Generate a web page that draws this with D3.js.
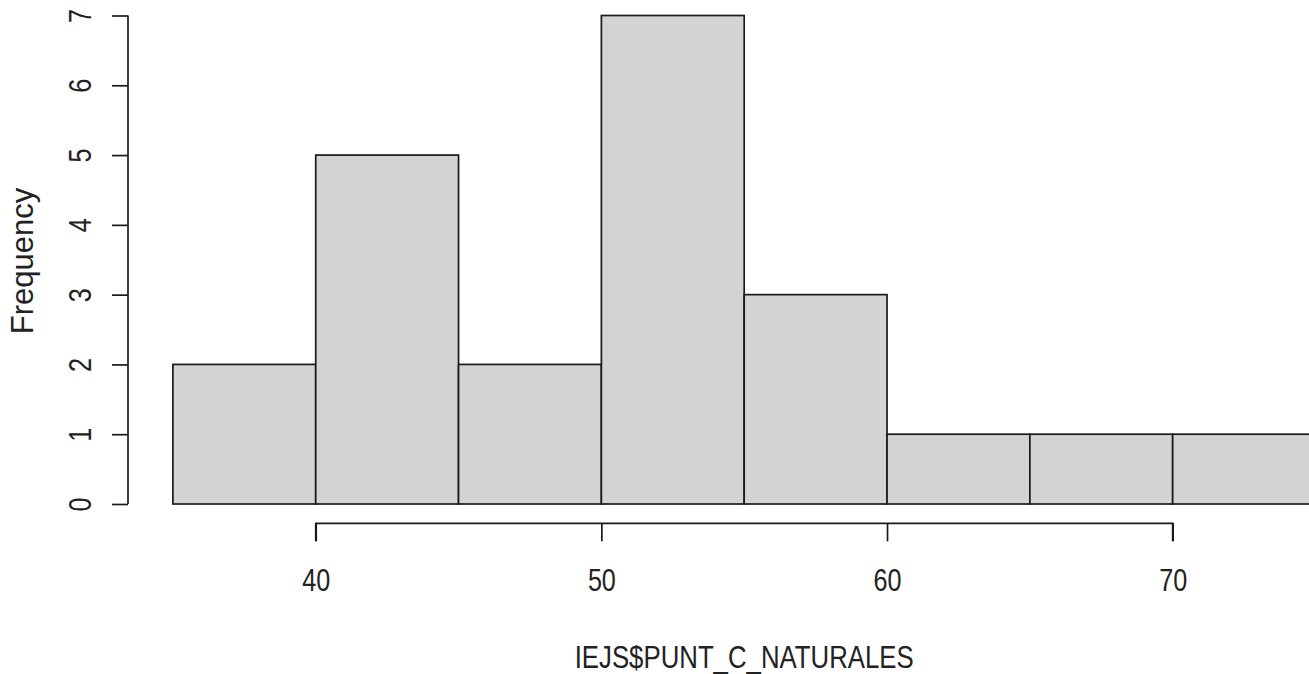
<!DOCTYPE html>
<html><head><meta charset="utf-8">
<script src="https://cdn.jsdelivr.net/npm/d3@7"></script>
<style>
html,body{margin:0;padding:0;background:#fff;overflow:hidden}
text{font-family:"Liberation Sans",Arial,sans-serif;fill:#222}
</style></head>
<body><svg id="c" width="1309" height="674"></svg>
<script>
const binStarts = [35, 40, 45, 50, 55, 60, 65, 70];
const binWidth = 5;
const counts = [2, 5, 2, 7, 3, 1, 1, 1];
const xTicks = [40, 50, 60, 70];
const yTicks = [0, 1, 2, 3, 4, 5, 6, 7];
const xLabel = "IEJS$PUNT_C_NATURALES";
const yLabel = "Frequency";

const svg = d3.select("#c");
const x = d3.scaleLinear().domain([35, 75]).range([172.9, 1315.5]);
const y = d3.scaleLinear().domain([0, 7]).range([504, 15.5]);
const fs = 31;
const digitW = 14;

svg.append("g").selectAll("rect").data(binStarts).join("rect")
  .attr("x", (d) => x(d))
  .attr("y", (d, i) => y(counts[i]))
  .attr("width", (d) => x(d + binWidth) - x(d))
  .attr("height", (d, i) => y(0) - y(counts[i]))
  .attr("fill", "#d3d3d3")
  .attr("stroke", "#1a1a1a")
  .attr("stroke-width", 1.7);

// x axis (R style)
const gx = svg.append("g").attr("transform", "translate(0,523.3)")
  .call(d3.axisBottom(x).tickValues(xTicks).tickSize(18).tickPadding(0).tickSizeOuter(0));
gx.attr("font-family", null);
gx.select(".domain").attr("d", `M${x(xTicks[0])},18V0H${x(xTicks[xTicks.length-1])}V18`)
  .attr("stroke", "#1a1a1a").attr("stroke-width", 1.7);
gx.selectAll("line").attr("stroke", "#1a1a1a").attr("stroke-width", 1.7);
gx.selectAll("text").attr("font-size", fs).attr("dy", null).attr("y", 68).attr("fill", "#222")
  .attr("textLength", (d) => String(d).length * digitW).attr("lengthAdjust", "spacingAndGlyphs");

// y axis
const gy = svg.append("g").attr("transform", "translate(128,0)")
  .call(d3.axisLeft(y).tickValues(yTicks).tickSize(16).tickSizeOuter(0).tickFormat(d3.format("d")));
gy.attr("font-family", null);
gy.selectAll("line").attr("stroke", "#1a1a1a").attr("stroke-width", 1.7);
gy.select(".domain").attr("stroke", "#1a1a1a").attr("stroke-width", 1.7)
  .attr("d", `M0,${y(0)}V${y(7)}`);
gy.selectAll("text").attr("font-size", fs).attr("x", null).attr("dy", null)
  .attr("text-anchor", "middle").attr("fill", "#222")
  .attr("textLength", (d) => String(d).length * digitW).attr("lengthAdjust", "spacingAndGlyphs")
  .attr("transform", "translate(-37,0) rotate(-90)");

svg.append("text").attr("x", x(55)).attr("y", 668).attr("text-anchor", "middle")
  .attr("font-size", fs).attr("textLength", 339).attr("lengthAdjust", "spacingAndGlyphs")
  .text(xLabel);
svg.append("text").attr("transform", "translate(33,261) rotate(-90)")
  .attr("text-anchor", "middle").attr("font-size", fs).text(yLabel);
</script></body></html>
